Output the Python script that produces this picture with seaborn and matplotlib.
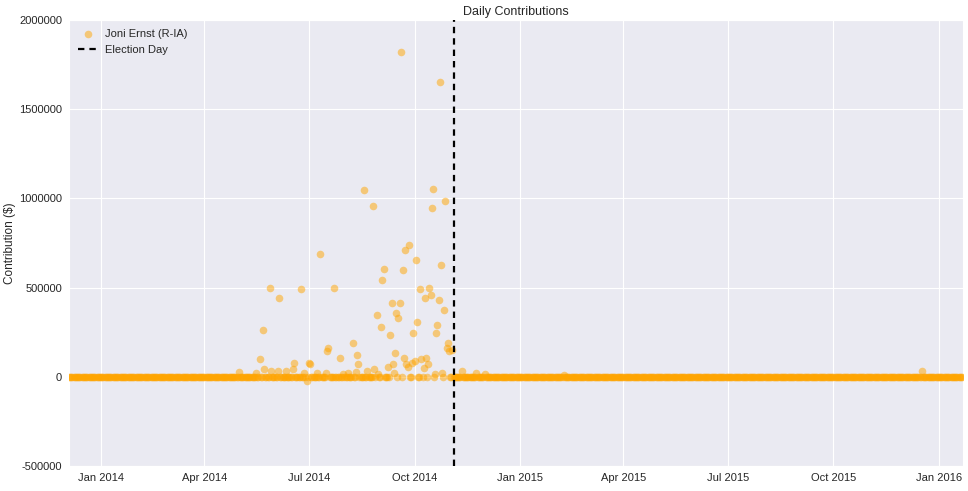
import matplotlib
matplotlib.use("Agg")
import matplotlib.pyplot as plt
import matplotlib.dates as mdates
import numpy as np
import pandas as pd
import seaborn as sns

# ---------------- data ----------------
first_day = "2013-12-04"
last_day = "2016-01-21"
quiet_day_value = 0          # most days read as ~0 $
election_day = "2014-11-04"
series_label = "Joni Ernst (R-IA)"

spike_dates = [
    "2014-05-01", "2014-05-16", "2014-05-19", "2014-05-22", "2014-05-23",
    "2014-05-28", "2014-05-29", "2014-06-04", "2014-06-05", "2014-06-11",
    "2014-06-17", "2014-06-18", "2014-06-24", "2014-06-27", "2014-06-29",
    "2014-07-01", "2014-07-02", "2014-07-08", "2014-07-11", "2014-07-16",
    "2014-07-17", "2014-07-18", "2014-07-23", "2014-07-28", "2014-07-31",
    "2014-08-04", "2014-08-08", "2014-08-11", "2014-08-12", "2014-08-13",
    "2014-08-18", "2014-08-21", "2014-08-26", "2014-08-27", "2014-08-29",
    "2014-08-30", "2014-09-02", "2014-09-03", "2014-09-04", "2014-09-08",
    "2014-09-10", "2014-09-11", "2014-09-12", "2014-09-13", "2014-09-14",
    "2014-09-15", "2014-09-17", "2014-09-18", "2014-09-19", "2014-09-21",
    "2014-09-22", "2014-09-23", "2014-09-24", "2014-09-25", "2014-09-26",
    "2014-09-29", "2014-09-30", "2014-10-01", "2014-10-02", "2014-10-03",
    "2014-10-06", "2014-10-07", "2014-10-09", "2014-10-10", "2014-10-11",
    "2014-10-13", "2014-10-14", "2014-10-15", "2014-10-16", "2014-10-17",
    "2014-10-19", "2014-10-20", "2014-10-21", "2014-10-22", "2014-10-23",
    "2014-10-24", "2014-10-25", "2014-10-27", "2014-10-28", "2014-10-29",
    "2014-10-30", "2014-10-31", "2014-11-03", "2014-11-11", "2014-11-24",
    "2014-12-01", "2015-02-08", "2015-12-17",
]
spike_values = [
    25000, 20000, 97000, 261000, 46000,
    500000, 30000, 30000, 444000, 35000,
    43000, 80000, 495000, 24000, -26000,
    78000, 72000, 24000, 691000, 20000,
    142000, 164000, 500000, 108000, 13000,
    20000, 192000, 27000, 125000, 69000,
    1050000, 35000, 960000, 41000, 344000,
    15000, 282000, 540000, 607000, 56000,
    237000, 416000, 69000, 20000, 131000,
    355000, 327000, 411000, 1820000, 601000,
    108000, 713000, 74000, 56000, 741000,
    80000, 243000, 86000, 657000, 310000,
    495000, 99000, 52000, 444000, 108000,
    69000, 500000, 461000, 949000, 1055000,
    13000, 248000, 293000, 428000, 1655000,
    629000, 20000, 377000, 983000, 164000,
    187000, 142000, 149000, 30000, 20000,
    15000, 11000, 33000,
]

y_ticks = [-500000, 0, 500000, 1000000, 1500000, 2000000]

# ---------------- build table ----------------
days = pd.date_range(first_day, last_day, freq="D")
daily = pd.Series(float(quiet_day_value), index=days)
daily.loc[pd.to_datetime(spike_dates)] = spike_values
df = pd.DataFrame({"date": daily.index, "value": daily.values})

# ---------------- style ----------------
sns.set_style("darkgrid")
plt.rcParams["font.family"] = ["Liberation Sans", "DejaVu Sans"]
plt.rcParams["lines.scale_dashes"] = False

fig = plt.figure(figsize=(9.68, 4.91), dpi=100)
ax = fig.add_axes([0.0713, 0.051, 0.9237, 0.908])

sns.scatterplot(data=df, x="date", y="value", color="orange", alpha=0.5,
                s=30, linewidth=0, label=series_label, ax=ax, zorder=3)
ax.axvline(pd.Timestamp(election_day), color="black", lw=1.6,
           dashes=(4.6, 3.6), label="Election Day", zorder=4)

ax.set_xlim(pd.Timestamp(first_day), pd.Timestamp(last_day) + pd.Timedelta(days=1))
ax.set_ylim(y_ticks[0], y_ticks[-1])
ax.set_yticks(y_ticks)
ax.set_yticklabels([str(v) for v in y_ticks])

ax.xaxis.set_major_locator(mdates.MonthLocator(bymonth=[1, 4, 7, 10]))
ax.xaxis.set_major_formatter(mdates.DateFormatter("%b %Y"))

ax.tick_params(axis="both", length=0, labelsize=8, colors="#262626", pad=5)
ax.set_xlabel("")
ax.set_ylabel("Contribution ($)", fontsize=8.5, color="#262626", labelpad=2)
ax.set_title("Daily Contributions", fontsize=9, color="#262626", pad=4)

leg = ax.legend(loc="upper left", frameon=False, fontsize=8,
                handlelength=1.8, handletextpad=0.6, borderaxespad=0.4,
                labelspacing=0.5)
for h in leg.legend_handles:
    try:
        h.set_sizes([30])
    except Exception:
        pass

fig.savefig("out.png", dpi=100)
